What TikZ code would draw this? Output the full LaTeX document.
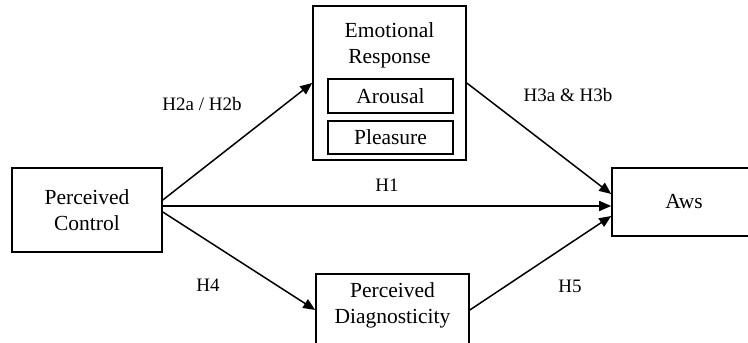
\documentclass[tikz,border=0pt]{standalone}
\usepackage{fontspec}
\setmainfont{Liberation Serif}
\usetikzlibrary{arrows.meta,positioning,calc}
\tikzset{
  box/.style={draw, line width=1.6pt, inner sep=0pt, align=center, font=\fontsize{21.5}{26}\selectfont},
  subbox/.style={box, line width=1.3pt},
  lbl/.style={font=\fontsize{19}{22}\selectfont, inner sep=0pt},
  link/.style={line width=1.5pt, -{Triangle[length=12pt,width=10pt]}},
}

\begin{document}
\begin{tikzpicture}[x=1pt,y=-1pt]
    \clip (0,0) rectangle (748,343);
    % boxes
    \node[box, minimum width=150, minimum height=84] (pc) at (87,210) {Perceived\\Control};
    \node[box, minimum width=153, minimum height=154] (er) at (389.5,83) {};
    \node[align=center, font=\fontsize{21.5}{26}\selectfont] (ertitle) at (389.5,45) {Emotional\\Response};
    \node[subbox, minimum width=125, minimum height=34] (arousal) at (390.5,96) {Arousal};
    \node[subbox, minimum width=125, minimum height=33] (pleasure) at (390.5,137.5) {Pleasure};
    \node[box, minimum width=153, minimum height=72] (diag) at (392.5,310)
        {\raisebox{0pt}[\height][\dimexpr\depth+9pt]{\begin{tabular}{@{}c@{}}Perceived\\Diagnosticity\end{tabular}}};
    \node[box, minimum width=144, minimum height=68] (aws) at (684,202) {Aws};
    % paths
    \draw[link] ([yshift=10pt]pc.east) -- (er.west);
    \draw[link] ([yshift=4pt]pc.east) -- ([yshift=4pt]pc.east -| aws.west);
    \draw[link] ([yshift=-2pt]pc.east) -- (diag.west);
    \draw[link] (er.east) -- ([yshift=8pt]aws.west);
    \draw[link] (diag.east) -- ([yshift=-14pt]aws.west);
    % hypotheses
    \node[lbl] (h2) at (202,104) {H2a / H2b};
    \node[lbl] (h3) at (568,95) {H3a \& H3b};
    \node[lbl] (h1) at (387,185) {H1};
    \node[lbl] (h4) at (208,285) {H4};
    \node[lbl] (h5) at (570,286) {H5};
\end{tikzpicture}
\end{document}
